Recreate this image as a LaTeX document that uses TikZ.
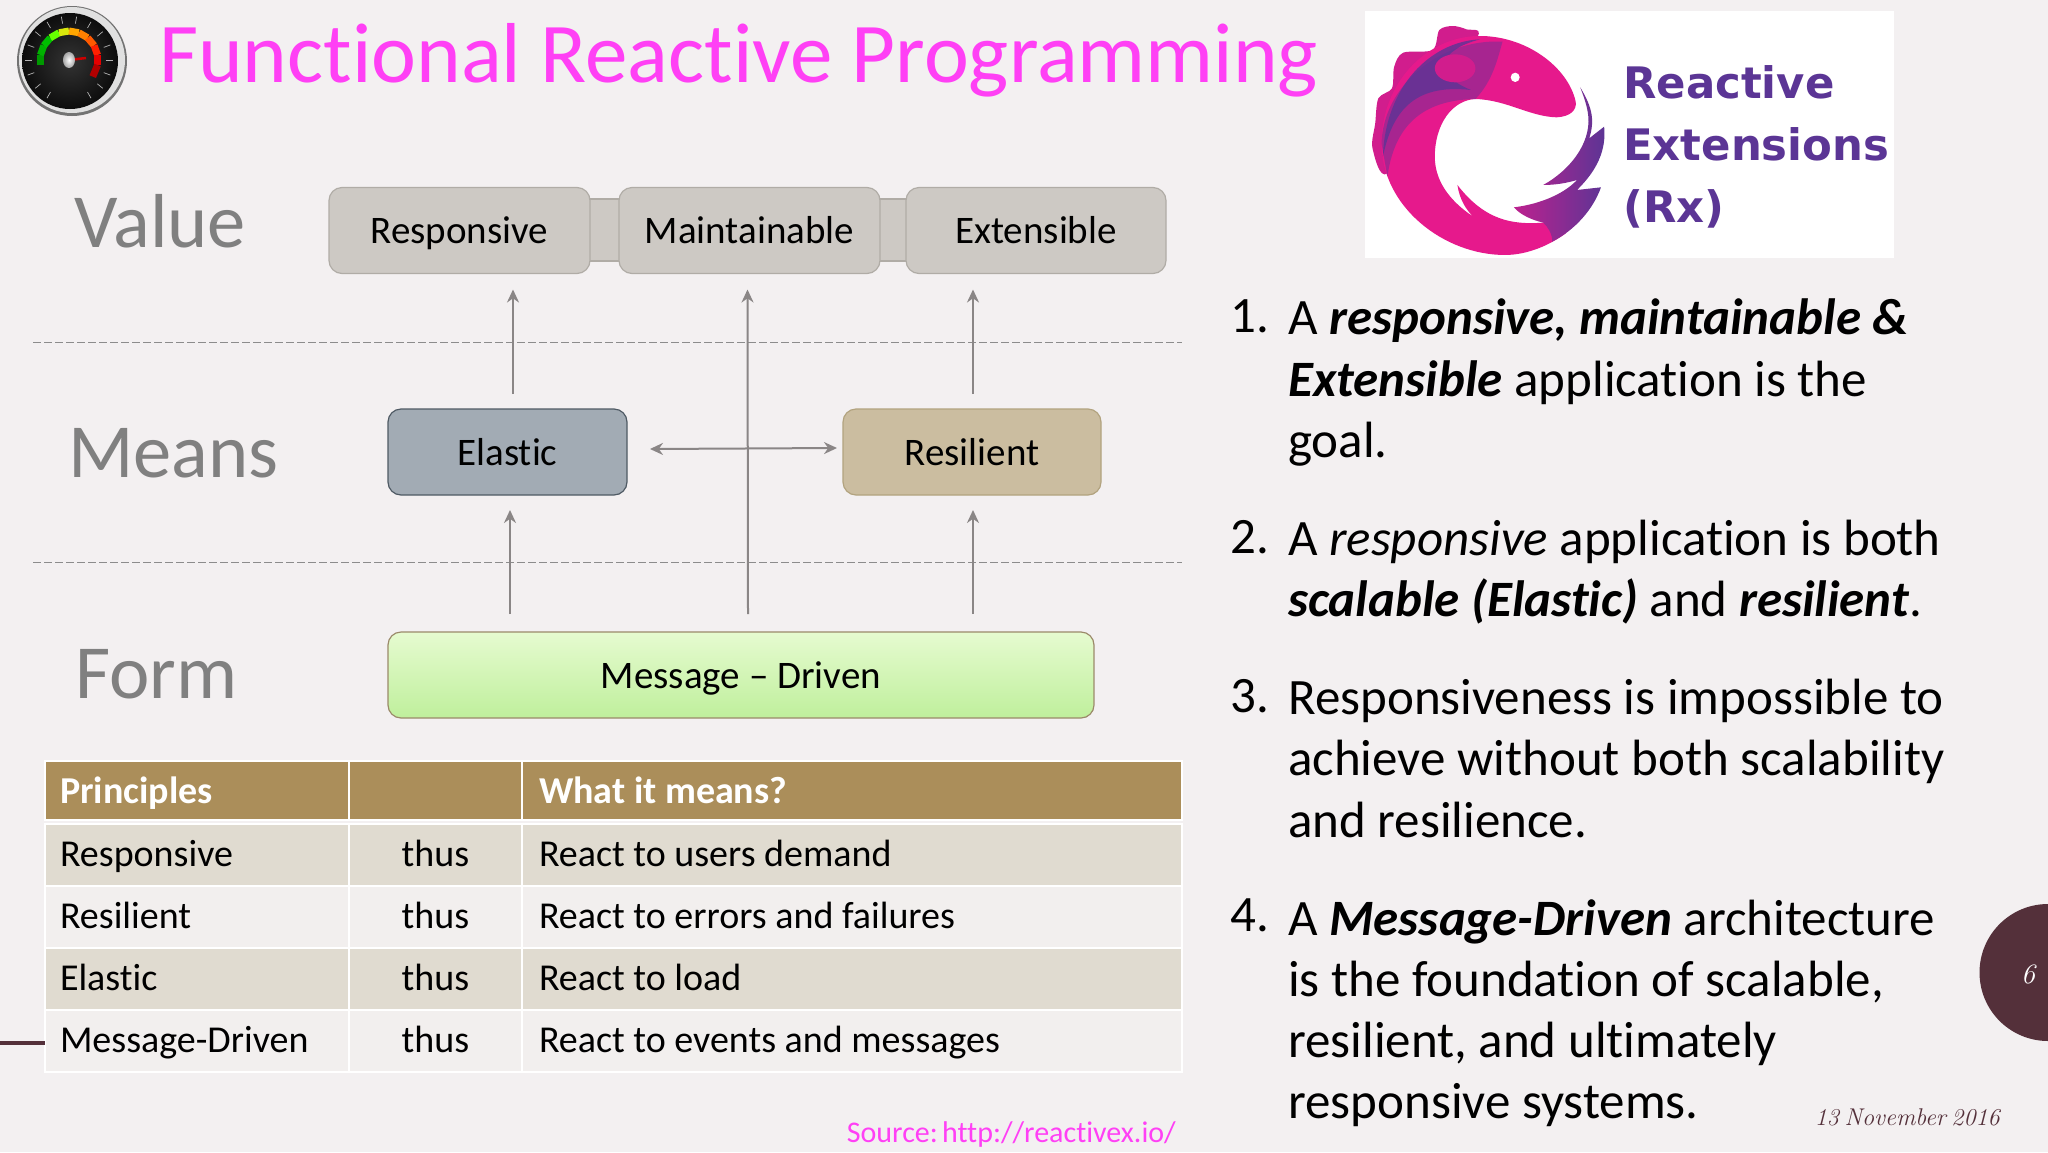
\documentclass[tikz,border=0pt]{standalone}
\usepackage{fontspec}
\usetikzlibrary{positioning, arrows.meta}
\newfontfamily\calibri[Ligatures=NoCommon]{Carlito}
\newfontfamily\logofont{DejaVu Sans}
\newcommand{\pxfont}[2]{\fontsize{#1}{#2}\selectfont\frenchspacing\spaceskip=0.226em\relax}
\newcommand{\tightwords}{\spaceskip=0.14em\relax}
\definecolor{slidebg}{HTML}{F3F0F1}
\definecolor{pinktext}{HTML}{FF40F5}
\definecolor{labelgray}{HTML}{808080}
\definecolor{maroon}{HTML}{54303A}
\definecolor{rxpink}{HTML}{E6198C}
\definecolor{rxpurple}{HTML}{5B3595}
\definecolor{headgold}{HTML}{AB8E5A}
\definecolor{banddark}{HTML}{E0DBD0}
\definecolor{bandlight}{HTML}{F2EFEE}
\definecolor{valuefill}{HTML}{CDC9C4}
\definecolor{valueline}{HTML}{B0ACA6}
\definecolor{elasticfill}{HTML}{A2ABB4}
\definecolor{elasticline}{HTML}{4F5A64}
\definecolor{resilfill}{HTML}{CBBDA0}
\definecolor{resilline}{HTML}{B2A37F}
\definecolor{msgtop}{HTML}{E6FBD0}
\definecolor{msgbottom}{HTML}{BFEF9C}
\definecolor{msgline}{HTML}{9B8A6A}
\definecolor{arrowgray}{HTML}{8A8686}
\tikzset{
    x=1pt, y=-1pt,
    >={Stealth[length=13pt,width=12pt]}, % small grey heads
    layerlabel/.style={font=\calibri\pxfont{76.5}{76}, text=labelgray, anchor=base west, inner sep=0pt},
    valuebox/.style={draw=#1, line width=1.2pt, rounded corners=13pt, minimum height=86pt, outer sep=0pt, font=\calibri\pxfont{39}{39}, text height=33pt, text depth=7pt},
    linkbar/.style={draw=valueline, fill=valuefill, line width=1.2pt, minimum height=62pt, minimum width=50pt},
    flowarrow/.style={->, draw=arrowgray, line width=2pt},
    layerline/.style={draw=black!45, dash pattern=on 8pt off 3pt, line width=1pt},
    cellbox/.style={draw=white, line width=2.5pt, minimum height=62pt, outer sep=0pt, align=flush left, font=\calibri\pxfont{38}{38}, text height=30pt, text depth=8pt},
    headcell/.style={cellbox, fill=headgold, text=white, font=\calibri\bfseries\pxfont{38}{38}, minimum height=59pt, text height=32pt, text depth=6pt},
    firstcol/.style={minimum width=304pt, text width=274pt, inner xsep=15pt},
    midcol/.style={minimum width=173pt, text width=141pt, inner xsep=16pt, align=flush center},
    lastcol/.style={minimum width=660pt, text width=626pt, inner xsep=17pt},
    itemtext/.style={font=\calibri\pxfont{51}{61.3}, align=left, anchor=north west, inner sep=0pt},
}
\begin{document}
\begin{tikzpicture}
    \useasboundingbox (0,0) rectangle (2048,1152);
    \fill[slidebg] (0,0) rectangle (2048,1152);

    % gauge
    \begin{scope}[shift={(72,61)}]
        \fill[black!55] (0,0) circle[radius=55pt];
        \fill[black!12] (0,-1) circle[radius=53pt];
        \shade[inner color=black!80, outer color=black!95] (-2,0) circle[radius=48pt];
        \foreach \a in {-60,-40,...,240}
            \draw[white!70!black, line width=0.7pt] ([shift={(-3,-1)}]-\a:37) -- ([shift={(-3,-1)}]-\a:44);
        \foreach \a/\b/\c in {190/170/green!60!black, 170/150/green!70!black, 150/130/green!75!black, 130/110/green!60!yellow, 110/90/yellow!85!green, 90/70/orange!70!yellow, 70/50/orange, 50/30/orange!70!red, 30/10/red!75!orange, 10/-10/red!90!black, -10/-35/red!70!black}
            \draw[\c, line width=7pt] ([shift={(-3,-1)}]-\a:29) -- ([shift={(-3,-1)}]-\b:29);
        \draw[red!80!black, line width=2.5pt] (-3,-1) -- (14,-3);
        \shade[inner color=white, outer color=black!35] (-3,-1) ellipse[x radius=6pt, y radius=8pt];
    \end{scope}

    % title
    \node[font=\calibri\pxfont{85.1}{85}, text=pinktext, anchor=base west, inner sep=0pt] (title) at (159,82) {Functional Reactive Programming};

    % logo
    \fill[white] (1365,11) rectangle (1894,258);
    \begin{scope}[shift={(1340,0)}, x=0.4515pt, y=-0.3333pt]
        \fill[rxpink!85!rxpurple] plot[smooth cycle] coordinates {(305,110) (280,88) (250,78) (220,90) (205,150) (140,158) (120,200) (115,265) (85,295) (78,370) (72,445) (105,520) (200,300)};
        \fill[rxpink] (522,305) .. controls (505,200) and (410,105) .. (305,108)
            .. controls (190,112) and (92,250) .. (92,430)
            .. controls (92,620) and (230,765) .. (365,765)
            .. controls (420,765) and (470,730) .. (500,700)
            -- (450,668) .. controls (380,675) and (320,660) .. (260,555)
            .. controls (265,600) and (280,630) .. (295,650)
            .. controls (240,600) and (210,540) .. (210,470)
            .. controls (210,370) and (250,300) .. (300,297)
            .. controls (370,300) and (420,350) .. (480,352)
            .. controls (510,350) and (525,330) .. (522,305) -- cycle;
        \fill[rxpurple, opacity=.45] (360,125) .. controls (220,115) and (95,260) .. (92,430)
            -- (105,530) .. controls (120,380) and (180,300) .. (300,297)
            .. controls (340,240) and (350,170) .. (360,125) -- cycle;
        \fill[rxpurple, opacity=.8] (310,118) .. controls (200,125) and (100,260) .. (95,470)
            .. controls (115,340) and (160,250) .. (290,270)
            .. controls (200,220) and (220,150) .. (310,118) -- cycle;
        \fill[rxpink!85!rxpurple] (255,205) ellipse[x radius=45, y radius=42];
        \shade[left color=rxpink!70!rxpurple, right color=rxpurple] (532,262) .. controls (558,320) and (565,360) .. (552,415)
            -- (585,380) .. controls (590,450) and (570,510) .. (525,570)
            -- (578,562) .. controls (560,630) and (520,690) .. (470,725)
            .. controls (470,700) and (460,680) .. (450,668)
            .. controls (425,660) and (400,645) .. (385,622)
            .. controls (430,615) and (490,590) .. (525,540)
            .. controls (500,550) and (475,555) .. (450,555)
            .. controls (510,510) and (555,430) .. (550,350)
            .. controls (548,320) and (540,290) .. (532,262) -- cycle;
        \fill[white] (388,232) ellipse[x radius=10, y radius=14];
    \end{scope}
    \node[font=\logofont\bfseries\pxfont{43.4}{43}, text=rxpurple, anchor=base west, inner sep=0pt] (rxone) at (1623,98) {Reactive};
    \node[font=\logofont\bfseries\pxfont{43.4}{43}, text=rxpurple, anchor=base west, inner sep=0pt] (rxtwo) at (1623,160) {Extensions};
    \node[font=\logofont\bfseries\pxfont{43.4}{43}, text=rxpurple, anchor=base west, inner sep=0pt] (rxthree) at (1623,222) {(Rx)};

    % layer names
    \node[layerlabel] (value) at (74,247) {Value};
    \node[layerlabel] (means) at (68,477) {Means};
    \node[layerlabel] (form) at (75,698) {Form};

    % dashed separators
    \coordinate (sepa) at (33,342);
    \coordinate (sepb) at (1182,342);
    \coordinate (sepc) at (33,562);
    \coordinate (sepd) at (1182,562);
    \draw[layerline] (sepa) -- (sepb);
    \draw[layerline] (sepc) -- (sepd);

    % Nodes
    \node[linkbar] (barone) at (604,230) {};
    \node[linkbar] (bartwo) at (892,230) {};
    \node[valuebox=valueline, fill=valuefill, minimum width=261pt] (resp) at (459.5,230.5) {Responsive};
    \node[valuebox=valueline, fill=valuefill, minimum width=261pt, right=29pt of resp] (maint) {Maintainable};
    \node[valuebox=valueline, fill=valuefill, minimum width=260pt, right=26pt of maint] (ext) {Extensible};
    \node[valuebox=elasticline, fill=elasticfill, minimum width=239pt] (elastic) at (507.5,452) {Elastic};
    \node[valuebox=resilline, fill=resilfill, minimum width=258pt] (resil) at (972,452) {Resilient};
    \node[valuebox=msgline, top color=msgtop, bottom color=msgbottom, minimum width=706pt] (msg) at (741,675) {Message – Driven};

    % edges
    \draw[flowarrow] ([xshift=5.5pt,yshift=15pt]elastic.north) -- ([xshift=53.5pt,yshift=-16pt]resp.south);
    \draw[flowarrow] ([xshift=7pt,yshift=18pt]msg.north) -- ([xshift=-2pt,yshift=-16pt]maint.south);
    \draw[flowarrow] ([xshift=1pt,yshift=15pt]resil.north) -- ([xshift=-63pt,yshift=-16pt]ext.south);
    \draw[flowarrow] ([xshift=-231pt,yshift=18pt]msg.north) -- ([xshift=2.5pt,yshift=-15pt]elastic.south);
    \draw[flowarrow] ([xshift=232pt,yshift=18pt]msg.north) -- ([xshift=1pt,yshift=-15pt]resil.south);
    \draw[flowarrow, <->] ([xshift=23pt,yshift=3pt]elastic.east) -- ([xshift=-6pt,yshift=4pt]resil.west);

    % table
    \node[headcell, firstcol, anchor=north west] (hone) at (45,761) {Principles};
    \node[headcell, midcol, right=0pt of hone] (htwo) {};
    \node[headcell, lastcol, right=0pt of htwo] (hthree) {What it means?};

    \node[cellbox, firstcol, fill=banddark, below=4pt of hone] (rowa) {Responsive};
    \node[cellbox, midcol, fill=banddark, right=0pt of rowa] (rowathus) {thus};
    \node[cellbox, lastcol, fill=banddark, right=0pt of rowathus] (rowamean) {React to users demand};

    \node[cellbox, firstcol, fill=bandlight, below=0pt of rowa] (rowb) {Resilient};
    \node[cellbox, midcol, fill=bandlight, right=0pt of rowb] (rowbthus) {thus};
    \node[cellbox, lastcol, fill=bandlight, right=0pt of rowbthus] (rowbmean) {React to errors and failures};

    \node[cellbox, firstcol, fill=banddark, below=0pt of rowb] (rowc) {Elastic};
    \node[cellbox, midcol, fill=banddark, right=0pt of rowc] (rowcthus) {thus};
    \node[cellbox, lastcol, fill=banddark, right=0pt of rowcthus] (rowcmean) {React to load};

    \node[cellbox, firstcol, fill=bandlight, below=0pt of rowc] (rowd) {Message-Driven};
    \node[cellbox, midcol, fill=bandlight, right=0pt of rowd] (rowdthus) {thus};
    \node[cellbox, lastcol, fill=bandlight, right=0pt of rowdthus] (rowdmean) {React to events and messages};

    \coordinate (footstub) at (0,1043);
    \draw[maroon, line width=4pt] (footstub) -- (rowd.west |- footstub);

    \node[font=\calibri\pxfont{30}{30}\tightwords, text=pinktext, anchor=base east, inner sep=0pt] (source) at (1176,1142) {Source: http://reactivex.io/};

    % numbered points
    \node[itemtext] (itema) at (1288,299) {A \textbf{\textit{responsive, maintainable \&}}\\\textbf{\textit{Extensible}} application is the\\goal.};
    \node[itemtext] (itemb) at (1288,520) {A \textit{responsive} application is both\\\textbf{\textit{scalable (Elastic)}} and \textbf{\textit{resilient}}.};
    \node[itemtext] (itemc) at (1288,679) {Responsiveness is impossible to\\achieve without both scalability\\and resilience.};
    \node[itemtext] (itemd) at (1288,899) {A \textbf{\textit{Message-Driven}} architecture\\is the foundation of scalable,\\resilient, and ultimately\\responsive systems.};
    \node[itemtext] (numa) at ([xshift=-58pt]itema.north west) {1.};
    \node[itemtext] (numb) at ([xshift=-58pt]itemb.north west) {2.};
    \node[itemtext] (numc) at ([xshift=-58pt]itemc.north west) {3.};
    \node[itemtext] (numd) at ([xshift=-58pt]itemd.north west) {4.};

    % footer
    \node[circle, fill=maroon, minimum size=137pt, inner sep=0pt] (pagedot) at (2048,972.5) {};
    \node[font=\itshape\pxfont{28}{28}, text=white, inner sep=0pt] (pagenum) at (2028,974) {6};
    \node[font=\itshape\pxfont{24.2}{24}, text=maroon, anchor=base east, inner sep=0pt] (date) at (2000,1125) {13 November 2016};
\end{tikzpicture}
\end{document}
